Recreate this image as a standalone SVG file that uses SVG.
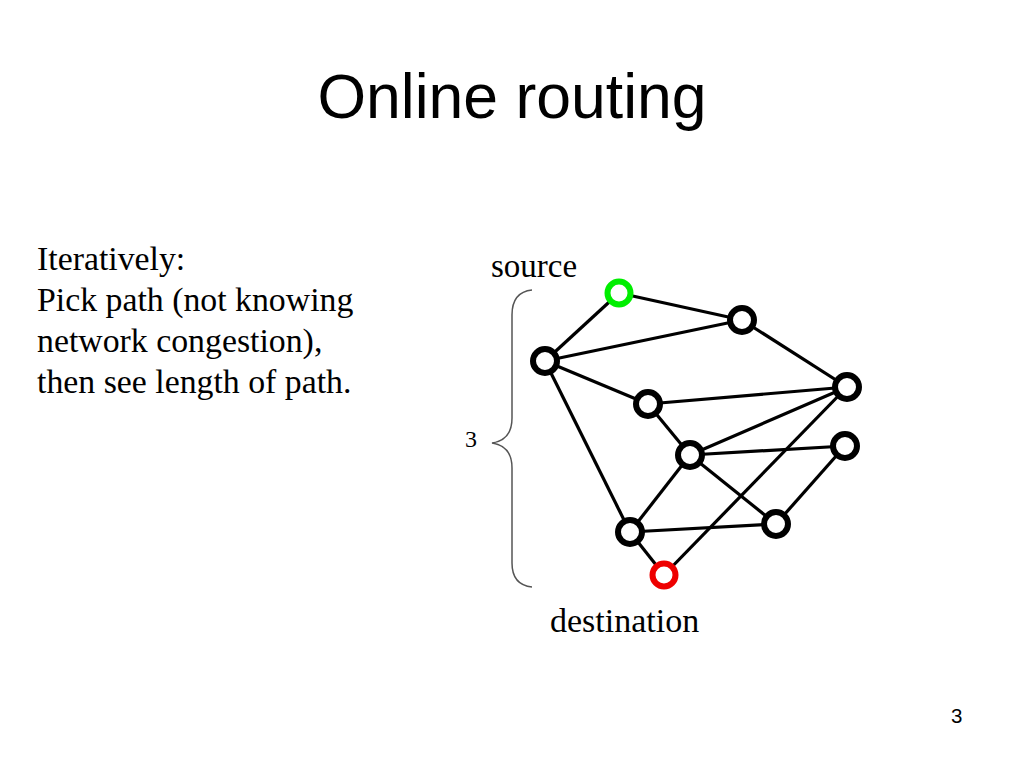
<svg xmlns="http://www.w3.org/2000/svg" width="1024" height="768" viewBox="0 0 1024 768">
<style>
.serif{font-family:"Liberation Serif","Times New Roman",serif;fill:#000}
.sans{font-family:"Liberation Sans",Arial,sans-serif;fill:#000}
.edge{stroke:#000;stroke-width:3.2;fill:none}
.node{fill:#fff;stroke:#000;stroke-width:6}
.src{fill:#fff;stroke:#00ee00;stroke-width:6}
.dst{fill:#fff;stroke:#ee0000;stroke-width:6}
</style>
<rect width="1024" height="768" fill="#fff"/>
<text class="sans" x="512" y="118" font-size="62.5" text-anchor="middle">Online routing</text>
<g id="description" class="serif" font-size="33.8">
<text x="37" y="270">Iteratively:</text>
<text x="37" y="311">Pick path (not knowing</text>
<text x="37" y="352">network congestion),</text>
<text x="37" y="393">then see length of path.</text>
</g>
<text class="serif" x="491" y="276.5" font-size="33">source</text>
<text class="serif" x="550" y="632" font-size="34">destination</text>
<g id="brace">
<path d="M532,290 Q512,292 512,315 L512,418 Q512,440 492,443 Q512,446 512,468 L512,563 Q512,585 532,587" fill="none" stroke="#555" stroke-width="1.5"/>
<text class="serif" x="465" y="447" font-size="24">3</text>
</g>
<g id="connectors">
<line class="edge" x1="619" y1="293" x2="545" y2="361"/>
<line class="edge" x1="619" y1="293" x2="742" y2="320"/>
<line class="edge" x1="545" y1="361" x2="742" y2="320"/>
<line class="edge" x1="742" y1="320" x2="847" y2="387"/>
<line class="edge" x1="545" y1="361" x2="648" y2="404"/>
<line class="edge" x1="545" y1="361" x2="630" y2="532"/>
<line class="edge" x1="648" y1="404" x2="847" y2="387"/>
<line class="edge" x1="648" y1="404" x2="690" y2="455"/>
<line class="edge" x1="690" y1="455" x2="847" y2="387"/>
<line class="edge" x1="690" y1="455" x2="845" y2="446"/>
<line class="edge" x1="690" y1="455" x2="630" y2="532"/>
<line class="edge" x1="690" y1="455" x2="776" y2="524"/>
<line class="edge" x1="847" y1="387" x2="664" y2="575"/>
<line class="edge" x1="845" y1="446" x2="776" y2="524"/>
<line class="edge" x1="630" y1="532" x2="776" y2="524"/>
<line class="edge" x1="630" y1="532" x2="664" y2="575"/>
</g>
<g id="source"><circle class="src" cx="619" cy="293" r="11.5"/></g>
<g id="n1"><circle class="node" cx="742" cy="320" r="12"/></g>
<g id="n2"><circle class="node" cx="545" cy="361" r="12"/></g>
<g id="n3"><circle class="node" cx="847" cy="387" r="12"/></g>
<g id="n4"><circle class="node" cx="648" cy="404" r="12"/></g>
<g id="n5"><circle class="node" cx="690" cy="455" r="12"/></g>
<g id="n6"><circle class="node" cx="845" cy="446" r="12"/></g>
<g id="n7"><circle class="node" cx="630" cy="532" r="12"/></g>
<g id="n8"><circle class="node" cx="776" cy="524" r="12"/></g>
<g id="destination"><circle class="dst" cx="664" cy="575" r="11.5"/></g>
<text class="sans" x="951" y="723" font-size="20.5">3</text>
</svg>
